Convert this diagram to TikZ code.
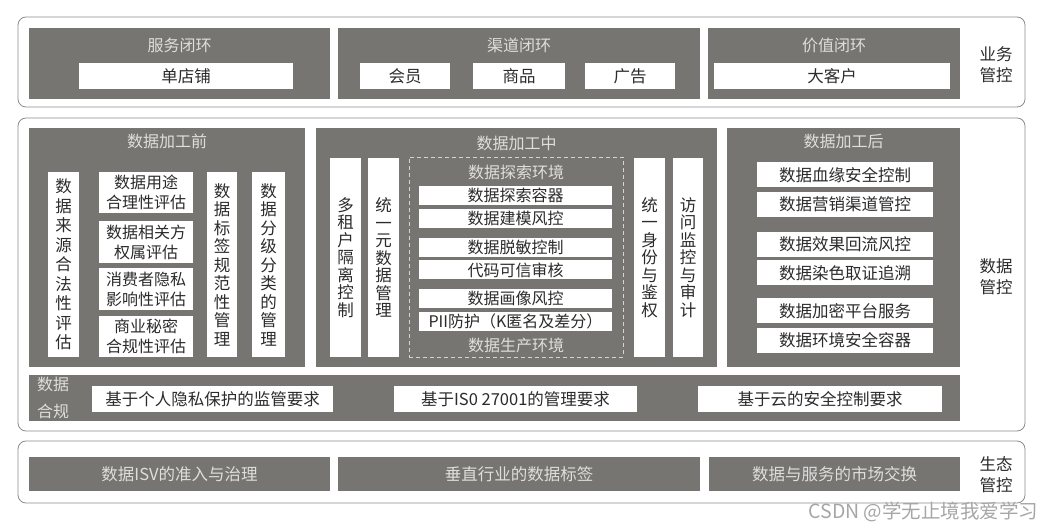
\documentclass[tikz,border=0pt]{standalone}
\usepackage{fontspec}
\setmainfont{Noto Sans CJK SC}
\usetikzlibrary{positioning}
\definecolor{panelline}{HTML}{8C8C8C}
\definecolor{boxgray}  {HTML}{767572}
\definecolor{headink}  {HTML}{DEDEDC}
\definecolor{ink}      {HTML}{2B2B2B}
\definecolor{dashline} {HTML}{D4D4D2}
\definecolor{markgray} {HTML}{A6A6A6}
\tikzset{
  dims/.style 2 args ={minimum width=#1pt, minimum height=#2pt},
  panel/.style    ={draw=panelline, line width=0.8pt, rounded corners=8pt, inner sep=0pt},
  graybox/.style  ={fill=boxgray, inner sep=0pt},
  whitebox/.style ={fill=white, inner sep=0pt, text=ink, font=\fontsize{16.5}{18}\selectfont},
  stackbox/.style ={fill=white, inner sep=0pt, text=ink, align=center,
                    font=\fontsize{16}{20}\selectfont},
  colbox/.style   ={fill=white, inner sep=0pt, text=ink, align=center,
                    font=\fontsize{16.5}{19.5}\selectfont},
  headtxt/.style  ={text=headink, font=\fontsize{16}{18}\selectfont},
  sidetxt/.style  ={text=ink, align=center, font=\fontsize{16.5}{21}\selectfont},
  sandbox/.style  ={draw=dashline, dash pattern=on 4pt off 3pt, line width=0.8pt, inner sep=0pt},
}
\begin{document}
\begin{tikzpicture}[x=1pt,y=-1pt]
    \useasboundingbox (0,0) rectangle (1050,529);

    % outer panels
    \node[panel,dims={1007}{90}]  (bizpanel)  at (521.5,62)    {};
    \node[panel,dims={1007}{313}] (datapanel) at (521.5,274.5) {};
    \node[panel,dims={1007}{62}]  (ecopanel)  at (521.5,472)   {};

    % business row
    \node[graybox,dims={301}{71}] (svc) at (179.5,63.5) {};
    \node[graybox,dims={362}{71}] (chn) at (519,63.5)   {};
    \node[graybox,dims={252}{71}] (val) at (834,63.5)   {};
    \node[headtxt] (svct) at (179.5,45) {服务闭环};
    \node[headtxt] (chnt) at (519,45)   {渠道闭环};
    \node[headtxt] (valt) at (834,45)   {价值闭环};
    \node[whitebox,dims={214}{26}] (shop)    at (186,76) {单店铺};
    \node[whitebox,dims={90}{26}]  (member)  at (405,76) {会员};
    \node[whitebox,dims={92}{26}]  (goods)   at (519,76) {商品};
    \node[whitebox,dims={90}{26}]  (ads)     at (630,76) {广告};
    \node[whitebox,dims={236}{26}] (bigcust) at (832,76) {大客户};
    \node[sidetxt] (bizlbl) at (996,65) {业务\\管控};

    % data row: before / during / after processing
    \node[graybox,dims={276}{239}] (pre)  at (167,247.5)   {};
    \node[graybox,dims={401}{239}] (mid)  at (516.5,247.5) {};
    \node[graybox,dims={233}{239}] (post) at (843.5,247.5) {};
    \node[headtxt] (pret)  at (167,141)   {数据加工前};
    \node[headtxt] (midt)  at (516.5,143) {数据加工中};
    \node[headtxt] (postt) at (843.5,141) {数据加工后};

    \node[colbox,dims={31}{185}] (src) at (63.5,264.5)
      {数\\据\\来\\源\\合\\法\\性\\评\\估};
    \node[stackbox,dims={94}{41}] (purp)    at (146,192.5) {数据用途\\合理性评估};
    \node[stackbox,dims={94}{42}] (rights)  at (146,242)   {数据相关方\\权属评估};
    \node[stackbox,dims={94}{42}] (privacy) at (146,289)   {消费者隐私\\影响性评估};
    \node[stackbox,dims={94}{41}] (secret)  at (146,336.5) {商业秘密\\合规性评估};
    \node[colbox,dims={30}{185},font=\fontsize{16.5}{18.5}\selectfont] (tagc) at (222,264.5)
      {数\\据\\标\\签\\规\\范\\性\\管\\理};
    \node[colbox,dims={33}{185},font=\fontsize{16.5}{18.5}\selectfont] (grade) at (268.5,264.5)
      {数\\据\\分\\级\\分\\类\\的\\管\\理};

    \node[colbox,dims={31}{199},font=\fontsize{16.5}{17.5}\selectfont] (tenant) at (345.5,257.5)
      {多\\租\\户\\隔\\离\\控\\制};
    \node[colbox,dims={31}{199},font=\fontsize{16.5}{17.5}\selectfont] (meta) at (383.5,257.5)
      {统\\一\\元\\数\\据\\管\\理};
    \node[sandbox,dims={214}{200}] (sbox) at (516,257) {};
    \node[headtxt] (sboxt) at (516,172) {数据探索环境};
    \node[headtxt] (prodt) at (516,345) {数据生产环境};
    \node[whitebox,dims={193}{19},font=\fontsize{16}{18}\selectfont] (explore)  at (515.5,195.5) {数据探索容器};
    \node[whitebox,dims={193}{19},font=\fontsize{16}{18}\selectfont] (model)    at (515.5,218.5) {数据建模风控};
    \node[whitebox,dims={193}{19},font=\fontsize{16}{18}\selectfont] (mask)     at (515.5,247.5) {数据脱敏控制};
    \node[whitebox,dims={193}{19},font=\fontsize{16}{18}\selectfont] (code)     at (515.5,270)   {代码可信审核};
    \node[whitebox,dims={193}{19},font=\fontsize{16}{18}\selectfont] (portrait) at (515.5,298.5) {数据画像风控};
    \node[whitebox,dims={193}{19},font=\fontsize{16}{18}\selectfont] (pii)      at (515.5,321.5) {PII防护（K匿名及差分）};
    \node[colbox,dims={31}{199},font=\fontsize{16.5}{17.5}\selectfont] (ident) at (649.5,257.5)
      {统\\一\\身\\份\\与\\鉴\\权};
    \node[colbox,dims={30}{199},font=\fontsize{16.5}{17.5}\selectfont] (audit) at (688,257.5)
      {访\\问\\监\\控\\与\\审\\计};

    \node[whitebox,dims={176}{25}] (lineage)  at (845,175)   {数据血缘安全控制};
    \node[whitebox,dims={176}{25}] (market)   at (845,204.5) {数据营销渠道管控};
    \node[whitebox,dims={176}{25}] (feedback) at (845,244.5) {数据效果回流风控};
    \node[whitebox,dims={176}{25}] (dye)      at (845,273)   {数据染色取证追溯};
    \node[whitebox,dims={176}{25}] (encrypt)  at (845,311)   {数据加密平台服务};
    \node[whitebox,dims={176}{25}] (envbox)   at (845,340.5) {数据环境安全容器};
    \node[sidetxt] (datalbl) at (996,277) {数据\\管控};

    % compliance bar
    \node[graybox,dims={931}{46}] (comply) at (494.5,398) {};
    \node[headtxt,align=center,font=\fontsize{16}{27}\selectfont] (complyt) at (53,398) {数据\\合规};
    \node[whitebox,dims={241}{26}] (privreq) at (212.5,399) {基于个人隐私保护的监管要求};
    \node[whitebox,dims={243}{26}] (isoreq)  at (515.5,399) {基于IS0 27001的管理要求};
    \node[whitebox,dims={244}{26}] (cloudreq) at (820,399)  {基于云的安全控制要求};

    % ecosystem row
    \node[graybox,dims={301}{34},headtxt,font=\fontsize{16.5}{18}\selectfont] (isv)      at (179.5,474) {数据ISV的准入与治理};
    \node[graybox,dims={362}{34},headtxt,font=\fontsize{16.5}{18}\selectfont] (vertical) at (519,474)   {垂直行业的数据标签};
    \node[graybox,dims={251}{34},headtxt,font=\fontsize{16.5}{18}\selectfont] (exchange) at (834.5,474) {数据与服务的市场交换};
    \node[sidetxt] (ecolbl) at (996,475) {生态\\管控};

    \node[anchor=west,text=markgray,font=\fontsize{19.5}{22}\selectfont] (mark) at (805,512)
      {CSDN @学无止境我爱学习};
  \end{tikzpicture}
\end{document}
